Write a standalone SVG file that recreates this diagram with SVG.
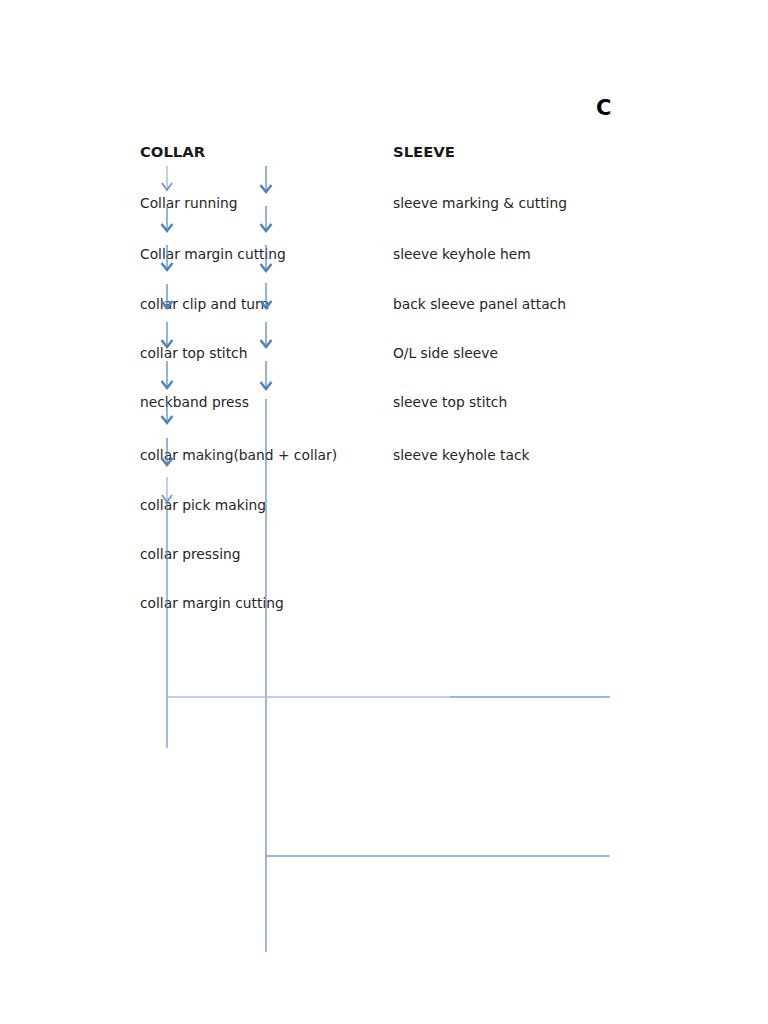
<svg xmlns="http://www.w3.org/2000/svg" width="768" height="1024" viewBox="0 0 768 1024">
<style>
.t{font-family:"DejaVu Sans",sans-serif;font-size:13.8px;fill:#262626}
.h{font-family:"DejaVu Sans",sans-serif;font-size:14.8px;font-weight:bold;fill:#1a1a1a}
.a{stroke:#4f81bd;stroke-width:1.2;fill:none;marker-end:url(#chev)}
.al{stroke:#95b3d7;stroke-width:1.2;fill:none;marker-end:url(#chevl)}
.ln{stroke:#4f81bd;stroke-width:1.1;fill:none}
.hl{stroke:#7f9fcf;stroke-width:1.5;fill:none}
</style>
<defs>
<marker id="chev" markerUnits="userSpaceOnUse" markerWidth="20" markerHeight="20" viewBox="-10 -10 20 20" refX="0" refY="0" orient="auto" overflow="visible">
<path d="M-7,-5.5 L0,0 L-7,5.5" fill="none" stroke="#4f81bd" stroke-width="2.4"/>
</marker>
<marker id="chevl" markerUnits="userSpaceOnUse" markerWidth="20" markerHeight="20" viewBox="-10 -10 20 20" refX="0" refY="0" orient="auto" overflow="visible">
<path d="M-7,-5 L0,0 L-7,5" fill="none" stroke="#6f95c8" stroke-width="1.7"/>
</marker>
</defs>
<rect width="768" height="1024" fill="#ffffff"/>
<text x="596" y="115" font-family="DejaVu Sans,sans-serif" font-size="21" font-weight="bold" fill="#000">C</text>
<g id="collar">
<text class="h" x="140" y="157">COLLAR</text>
<text class="t" x="140" y="208">Collar running</text>
<text class="t" x="140" y="259">Collar margin cutting</text>
<text class="t" x="140" y="309">collar clip and turn</text>
<text class="t" x="140" y="358">collar top stitch</text>
<text class="t" x="140" y="407">neckband press</text>
<text class="t" x="140" y="460">collar making(band + collar)</text>
<text class="t" x="140" y="510">collar pick making</text>
<text class="t" x="140" y="559">collar pressing</text>
<text class="t" x="140" y="608">collar margin cutting</text>
</g>
<g id="sleeve">
<text class="h" x="393" y="157">SLEEVE</text>
<text class="t" x="393" y="208">sleeve marking &amp; cutting</text>
<text class="t" x="393" y="259">sleeve keyhole hem</text>
<text class="t" x="393" y="309">back sleeve panel attach</text>
<text class="t" x="393" y="358">O/L side sleeve</text>
<text class="t" x="393" y="407">sleeve top stitch</text>
<text class="t" x="393" y="460">sleeve keyhole tack</text>
</g>
<g id="connectors">
<path class="al" d="M167,166 V190"/>
<path class="a" d="M167,207 V231"/>
<path class="a" d="M167,245 V270"/>
<path class="a" d="M167,284 V308"/>
<path class="a" d="M167,322 V347"/>
<path class="a" d="M167,361 V388"/>
<path class="a" d="M167,402 V423"/>
<path class="a" d="M167,438 V465"/>
<path class="al" d="M167,477 V502"/>
<path class="ln" d="M167,502 V748"/>
<path class="a" d="M266,166 V192"/>
<path class="a" d="M266,206 V231"/>
<path class="a" d="M266,245 V271"/>
<path class="a" d="M266,283 V308"/>
<path class="a" d="M266,322 V347"/>
<path class="a" d="M266,361 V389"/>
<path class="ln" d="M266,399 V952"/>
<path d="M167,697 H450" stroke="#a9c1e2" stroke-width="1.6" fill="none"/>
<path class="hl" d="M450,697 H610"/>
<path class="hl" d="M266,856 H610"/>
</g>
</svg>
